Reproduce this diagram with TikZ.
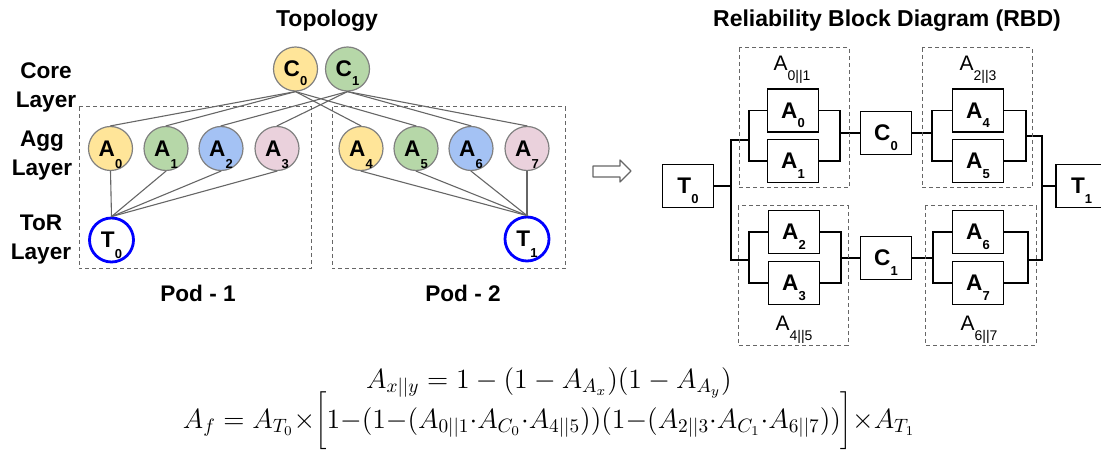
\documentclass[tikz,border=0pt]{standalone}
\usepackage{fontspec}
\newfontfamily\arialfont{Liberation Sans}
\usepackage{tikz}
\usepackage{xcolor}
\definecolor{coreyellow}{HTML}{FFE599}
\definecolor{coregreen}{HTML}{B6D7A8}
\definecolor{aggblue}{HTML}{A4C2F4}
\definecolor{aggpink}{HTML}{EAD1DC}
\definecolor{edgegray}{HTML}{666666}
\definecolor{rimgray}{HTML}{808080}
\newcommand{\lbl}[3][5pt]{#2\raisebox{-#1}{\fontsize{6.5}{6.5}\selectfont #3}}
\newcommand{\grplbl}[1]{A\raisebox{-5pt}{\fontsize{7}{7}\selectfont #1}}

\begin{document}
\begin{tikzpicture}[x=0.5pt, y=-0.5pt]
  \tikzstyle{myline}=[black, line cap=round, line join=round];
  \useasboundingbox (0,0) rectangle (1101,464);
  %
  % titles
  \tikzstyle{title}=[font=\arialfont\bfseries\fontsize{11.5}{14}\selectfont];
  \node[title] (topo) at (327,21) {Topology};
  \node[title] (rbd) at (887,21) {Reliability Block Diagram (RBD)};
  %
  % layer names
  \tikzstyle{layer}=[font=\arialfont\bfseries\fontsize{11.3}{14.5}\selectfont, align=center, inner sep=0pt];
  \node[layer] (core) at (46,87) {Core\\Layer};
  \node[layer] (agg) at (42,156) {Agg\\Layer};
  \node[layer] (torl) at (41,240) {ToR\\Layer};
  %
  % pods
  \tikzstyle{pod}=[draw=edgegray, dash pattern=on 2pt off 1.5pt, line width=0.5pt];
  \draw[pod] (79,107) rectangle (311,269);
  \draw[pod] (332,107) rectangle (565,269);
  \tikzstyle{podlbl}=[font=\arialfont\bfseries\fontsize{11.3}{14}\selectfont];
  \node[podlbl] (pod1) at (198,293) {Pod - 1};
  \node[podlbl] (pod2) at (463,293) {Pod - 2};
  %
  % switches
  \tikzstyle{sw}=[circle, draw=rimgray, line width=0.6pt, minimum size=22pt, inner sep=0pt,
    text depth=0pt, font=\arialfont\bfseries\fontsize{11.3}{12}\selectfont];
  \tikzstyle{tor}=[sw, draw=blue, line width=1.4pt, fill=white];
  \node[sw, fill=coreyellow] (C0) at (295.5,69) {\lbl[4.5pt]{C}{0}};
  \node[sw, fill=coregreen] (C1) at (347.5,69) {\lbl[4.5pt]{C}{1}};
  \node[sw, fill=coreyellow] (A0) at (110.5,148.5) {\lbl[6pt]{A}{0}};
  \node[sw, fill=coregreen] (A1) at (166,148.5) {\lbl[6pt]{A}{1}};
  \node[sw, fill=aggblue] (A2) at (221,148.5) {\lbl[6pt]{A}{2}};
  \node[sw, fill=aggpink] (A3) at (277,148.5) {\lbl[6pt]{A}{3}};
  \node[sw, fill=coreyellow] (A4) at (361,148.5) {\lbl[6pt]{A}{4}};
  \node[sw, fill=coregreen] (A5) at (416,148.5) {\lbl[6pt]{A}{5}};
  \node[sw, fill=aggblue] (A6) at (471,148.5) {\lbl[6pt]{A}{6}};
  \node[sw, fill=aggpink] (A7) at (527,148.5) {\lbl[6pt]{A}{7}};
  \node[tor] (T0) at (111.5,240) {\lbl[5.5pt]{T}{0}};
  \node[tor] (T1) at (527,239) {\lbl[5.5pt]{T}{1}};
  %
  % links
  \tikzstyle{link}=[myline, draw=edgegray, line width=0.55pt];
  \draw[link] (C0.south) -- (A0.north);
  \draw[link] (C0.south) -- (A1.north);
  \draw[link] (C0.south) -- (A4.north);
  \draw[link] (C0.south) -- (A5.north);
  \draw[link] (C1.south) -- (A2.north);
  \draw[link] (C1.south) -- (A3.north);
  \draw[link] (C1.south) -- (A6.north);
  \draw[link] (C1.south) -- (A7.north);
  \draw[link] (T0.north) -- (A0.south);
  \draw[link] (T0.north) -- (A1.south);
  \draw[link] (T0.north) -- (A2.south);
  \draw[link] (T0.north) -- (A3.south);
  \draw[link] (T1.north) -- (A4.south);
  \draw[link] (T1.north) -- (A5.south);
  \draw[link] (T1.north) -- (A6.south);
  \draw[link] (T1.north) -- (A7.south);
  %
  % hollow arrow
  \draw[myline, draw=edgegray, line width=0.6pt, fill=white] (593,166) -- (620,166) -- (620,160)
    -- (631,171) -- (620,182) -- (620,177) -- (593,177) -- cycle;
  %
  % reliability blocks
  \tikzstyle{blk}=[draw, line width=0.8pt, minimum width=25.5pt, minimum height=21.5pt, inner sep=0pt,
    text depth=0pt, font=\arialfont\bfseries\fontsize{11.3}{12}\selectfont];
  \node[blk] (bT0) at (688,186) {\lbl[4.7pt]{T}{0}};
  \node[blk] (bT1) at (1081.5,186) {\lbl[4.7pt]{T}{1}};
  \node[blk] (bA0) at (793,110.5) {\lbl[4.7pt]{A}{0}};
  \node[blk] (bA1) at (793,161) {\lbl[4.7pt]{A}{1}};
  \node[blk] (bC0) at (886,133) {\lbl[4.7pt]{C}{0}};
  \node[blk] (bA4) at (978,110.5) {\lbl[4.7pt]{A}{4}};
  \node[blk] (bA5) at (978,161) {\lbl[4.7pt]{A}{5}};
  \node[blk] (bA2) at (794,232) {\lbl[4.7pt]{A}{2}};
  \node[blk] (bA3) at (794,283) {\lbl[4.7pt]{A}{3}};
  \node[blk] (bC1) at (886,258) {\lbl[4.7pt]{C}{1}};
  \node[blk] (bA6) at (978,232) {\lbl[4.7pt]{A}{6}};
  \node[blk] (bA7) at (978,283) {\lbl[4.7pt]{A}{7}};
  %
  % wiring
  \tikzstyle{wire}=[draw, line width=0.8pt, line join=miter];
  \coordinate (busL) at (731,186);
  \coordinate (busR) at (1042,186);
  \coordinate (pa) at (749,140);
  \coordinate (pb) at (840,133);
  \coordinate (pc) at (749,260);
  \coordinate (pd) at (932,133);
  \coordinate (pe) at (1026,136);
  \coordinate (pf) at (841,258);
  \coordinate (pg) at (933,258);
  \coordinate (pj) at (1028,260);
  \draw[wire] (bT0.east) -- (busL);
  \draw[wire] (pa) -| (busL) |- (pc);
  \draw[wire] (bA0.west) -| (pa) |- (bA1.west);
  \draw[wire] (bA0.east) -| (pb) |- (bA1.east);
  \draw[wire] (pb) -- (bC0.west);
  \draw[wire] (bC0.east) -- (pd);
  \draw[wire] (bA4.west) -| (pd) |- (bA5.west);
  \draw[wire] (bA4.east) -| (pe) |- (bA5.east);
  \draw[wire] (pe) -| (busR) |- (pj);
  \draw[wire] (busR) -- (bT1.west);
  \draw[wire] (bA2.west) -| (pc) |- (bA3.west);
  \draw[wire] (bA2.east) -| (pf) |- (bA3.east);
  \draw[wire] (pf) -- (bC1.west);
  \draw[wire] (bC1.east) -- (pg);
  \draw[wire] (bA6.west) -| (pg) |- (bA7.west);
  \draw[wire] (bA6.east) -| (pj) |- (bA7.east);
  %
  % parallel groups
  \draw[pod] (739,48) rectangle (849,188);
  \draw[pod] (922,48) rectangle (1032,188);
  \draw[pod] (738,206) rectangle (848,345);
  \draw[pod] (925,206) rectangle (1036,345);
  \tikzstyle{grp}=[font=\arialfont\fontsize{10.5}{12}\selectfont, text depth=0pt, inner sep=0pt];
  \node[grp] (g01) at (792,63.5) {\grplbl{0||1}};
  \node[grp] (g23) at (978,63.5) {\grplbl{2||3}};
  \node[grp] (g45) at (794,323.5) {\grplbl{4||5}};
  \node[grp] (g67) at (979,323.5) {\grplbl{6||7}};
  %
  % formulas (math fonts come in fixed sizes, so scale the 14.4pt set)
  \tikzstyle{eqn}=[font=\fontsize{14.4}{16}\selectfont, inner sep=0pt, anchor=base, scale=0.965, transform shape];
  \node[eqn] (eq1) at (549,388) {$A_{x||y} = 1 - (1 - A_{A_x})(1 - A_{A_y})$};
  \node[eqn] (eq2) at (549,428) {$A_f = A_{T_0}{\times}\Bigg[1{-}\Big(1{-}(A_{0||1}{\cdot}A_{C_0}{\cdot}A_{4||5}\big)\Big)\Big(1{-}(A_{2||3}{\cdot}A_{C_1}{\cdot}A_{6||7}\big)\Big)\Bigg]{\times}A_{T_1}$};
\end{tikzpicture}
\end{document}
